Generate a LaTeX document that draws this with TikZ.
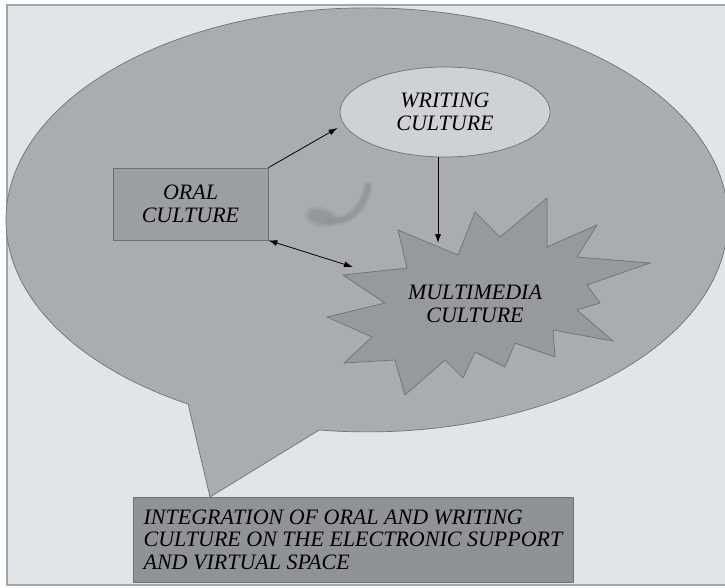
\documentclass[tikz,border=0pt]{standalone}
\usepackage{fontspec}
\setmainfont{Liberation Serif}
\usetikzlibrary{arrows.meta,shapes.geometric}

\definecolor{panelfill}{HTML}{E2E5E8}
\definecolor{panelline}{HTML}{A3A6A8}
\definecolor{bubblefill}{HTML}{A9ADB0}
\definecolor{edgegray}{HTML}{6E7275}
\definecolor{writingfill}{HTML}{CFD2D4}
\definecolor{oralfill}{HTML}{9B9FA2}
\definecolor{burstfill}{HTML}{969A9D}
\definecolor{bottomfill}{HTML}{8F9396}
\definecolor{smudge}{HTML}{8A8F92}

\begin{document}
\begin{tikzpicture}[
  x=1pt, y=-1pt,
  label font/.style={font=\fontsize{22}{22.5}\selectfont\itshape, text=black},
  panel/.style={draw=panelline, line width=1.2pt, fill=panelfill},
  bubble/.style={draw=edgegray, line width=0.7pt, fill=bubblefill},
  burst/.style={draw=edgegray, line width=0.7pt, fill=burstfill, line join=miter},
  writingbox/.style={ellipse, draw=edgegray, line width=0.7pt, fill=writingfill,
    minimum width=210pt, minimum height=90pt, inner sep=0pt, label font, align=center},
  oralbox/.style={rectangle, draw=edgegray, line width=0.7pt, fill=oralfill,
    minimum width=155pt, minimum height=72pt, inner sep=0pt, label font, align=center},
  bottombox/.style={rectangle, draw=edgegray, line width=0.7pt, fill=bottomfill,
    minimum width=440pt, minimum height=85pt, inner sep=0pt, label font, align=left},
  arr/.style={draw=black, line width=0.8pt, -{Latex[length=9pt,width=6pt]}},
  arrboth/.style={draw=black, line width=0.8pt, {Latex[length=9pt,width=6pt]}-{Latex[length=9pt,width=6pt]}},
]
\useasboundingbox (0,0) rectangle (725,587);
\fill[white] (0,0) rectangle (725,587);

% framed panel
\draw[panel] (7,5) rectangle (740,585);

% speech bubble: ellipse with a tail pointing down to the caption
\draw[bubble] (319.2,430)
  arc[start angle=262.4, end angle=600.3, x radius=361pt, y radius=212pt]
  -- (210,497) -- cycle;

% soft smudge between the shapes
\begin{scope}[smudge]
  \fill[opacity=0.3, rotate around={-12:(321,217)}] (321,217) ellipse[x radius=17pt, y radius=10pt];
  \fill[opacity=0.5, rotate around={-12:(321,217)}] (321,217) ellipse[x radius=13pt, y radius=7pt];
  \draw[opacity=0.3, line width=9pt, line cap=round]
    (330,221) .. controls (350,223) and (365,206) .. (368,186);
  \draw[opacity=0.5, line width=5pt, line cap=round]
    (330,221) .. controls (350,223) and (365,206) .. (368,186);
\end{scope}

% multimedia starburst
\draw[burst] (398,230) -- (458,255) -- (475,212) -- (500,237) -- (547,198)
  -- (547,247) -- (597,225) -- (577,257) -- (650,263) -- (587,285)
  -- (600,303) -- (577,310) -- (613,341) -- (553,330) -- (555,357)
  -- (515,343) -- (505,367) -- (475,352) -- (463,378) -- (445,360)
  -- (405,395) -- (395,360) -- (344,363) -- (372,337) -- (327,317)
  -- (385,303) -- (343,275) -- (407,268) -- cycle;
\node[label font, align=center, inner sep=0pt] (mm) at (475,304) {MULTIMEDIA\\CULTURE};

% arrow targets on the starburst
\coordinate (mmA) at (438,243);
\coordinate (mmB) at (353,267);

\node[writingbox] (writing) at (445,112) {WRITING\\CULTURE};
\node[oralbox] (oral) at (190.5,204) {ORAL\\CULTURE};
\node[bottombox] (integ) at (353,539.5)
  {INTEGRATION OF ORAL AND WRITING\\CULTURE ON THE ELECTRONIC SUPPORT\\AND VIRTUAL SPACE};

% connectors
\draw[arr, shorten >=7pt] (oral.north east) -- (writing.187);
\draw[arr] (writing.south -| mmA) -- (mmA);
\draw[arrboth] (oral.south east) -- (mmB);
\end{tikzpicture}
\end{document}
